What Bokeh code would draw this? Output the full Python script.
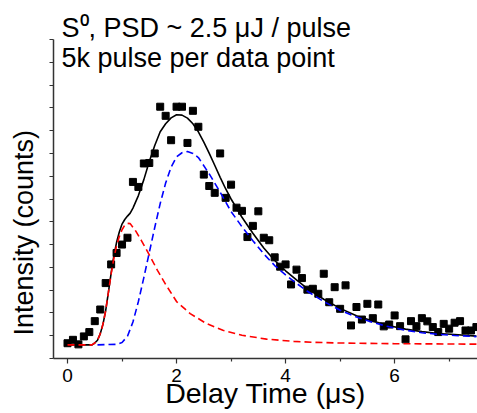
from bokeh.plotting import figure
from bokeh.models import Range1d, Label, FixedTicker
from bokeh.embed import file_html
from bokeh.resources import INLINE

# ---- data ----
delay = [0.0, 0.1, 0.2, 0.3, 0.4, 0.5, 0.6, 0.7, 0.8, 0.9,
         1.0, 1.1, 1.2, 1.3, 1.4, 1.5, 1.6, 1.7, 1.8, 1.9,
         2.0, 2.1, 2.2, 2.3, 2.4, 2.5, 2.6, 2.7, 2.8, 2.9,
         3.0, 3.1, 3.2, 3.3, 3.4, 3.5, 3.6, 3.7, 3.8, 3.9,
         4.0, 4.1, 4.2, 4.3, 4.4, 4.5, 4.6, 4.7, 4.8, 4.9,
         5.0, 5.1, 5.2, 5.3, 5.4, 5.5, 5.6, 5.7, 5.8, 5.9,
         6.0, 6.1, 6.2, 6.3, 6.4, 6.5, 6.6, 6.7, 6.8, 6.9,
         7.0, 7.1, 7.2, 7.3, 7.4, 7.5]
intensity = [0.67, 0.82, 0.62, 0.97, 1.16, 1.64, 2.15, 3.31, 4.13, 4.63,
             5.00, 5.30, 7.75, 7.53, 8.56, 8.58, 9.00, 11.05, 10.65, 9.58,
             11.05, 11.05, 9.46, 10.87, 10.17, 8.07, 7.57, 7.27, 9.00, 7.05,
             7.63, 6.62, 6.48, 5.33, 5.82, 6.46, 5.30, 5.19, 4.44, 4.03,
             4.13, 3.25, 3.90, 3.53, 3.02, 3.06, 2.84, 3.72, 2.47, 3.13,
             2.18, 3.21, 1.45, 2.26, 1.71, 2.40, 1.77, 2.37, 1.41, 1.49,
             1.89, 1.42, 0.84, 1.64, 1.42, 1.77, 1.63, 1.38, 1.16, 1.52,
             1.31, 1.57, 1.64, 1.23, 1.23, 1.38]

# total fit (black solid)
fit_x = [0.0, 0.45, 0.5, 0.55, 0.6, 0.65, 0.7, 0.75, 0.8, 0.85,
         0.9, 0.95, 1.0, 1.05, 1.1, 1.15, 1.2, 1.3, 1.4, 1.5,
         1.6, 1.7, 1.8, 1.9, 2.0, 2.1, 2.2, 2.3, 2.4, 2.5,
         2.6, 2.7, 2.8, 2.9, 3.0, 3.2, 3.4, 3.6, 3.8, 4.0,
         4.2, 4.4, 4.7, 5.0, 5.3, 5.6, 5.9, 6.2, 6.5, 6.8,
         7.1, 7.5]
fit_y = [0.6, 0.6, 0.68, 0.8, 1.08, 1.5, 2.1, 2.9, 3.75, 4.5,
         5.1, 5.55, 5.9, 6.1, 6.25, 6.38, 6.6, 7.15, 7.85, 8.65,
         9.35, 9.95, 10.3, 10.56, 10.7, 10.68, 10.55, 10.3, 9.95, 9.5,
         9.0, 8.48, 7.95, 7.45, 7.0, 6.2, 5.5, 4.85, 4.3, 3.85,
         3.45, 3.07, 2.6, 2.2, 1.88, 1.64, 1.44, 1.29, 1.18, 1.1,
         1.05, 0.98]

# fast component (red dashed)
fast_x = [0.0, 0.45, 0.5, 0.55, 0.6, 0.65, 0.7, 0.75, 0.8, 0.85,
          0.9, 0.95, 1.0, 1.05, 1.1, 1.15, 1.25, 1.35, 1.5, 1.65,
          1.8, 2.0, 2.25, 2.55, 2.85, 3.2, 3.65, 4.15, 4.5, 5.0,
          6.0, 7.5]
fast_y = [0.6, 0.6, 0.68, 0.8, 1.08, 1.5, 2.1, 2.9, 3.7, 4.4,
          4.95, 5.35, 5.65, 5.85, 5.93, 5.92, 5.6, 5.2, 4.55, 3.87,
          3.25, 2.5, 1.97, 1.53, 1.24, 1.02, 0.85, 0.75, 0.71, 0.68,
          0.65, 0.63]

# slow component (blue dashed)
slow_x = [0.55, 0.9, 1.0, 1.1, 1.2, 1.3, 1.4, 1.5, 1.6, 1.7,
          1.8, 1.9, 2.0, 2.1, 2.2, 2.3, 2.4, 2.6, 2.8, 3.0,
          3.2, 3.4, 3.6, 3.8, 4.0, 4.2, 4.4, 4.7, 5.0, 5.3,
          5.6, 5.9, 6.2, 6.5, 6.8, 7.1, 7.5]
slow_y = [0.6, 0.62, 0.7, 0.98, 1.6, 2.5, 3.55, 4.65, 5.75, 6.8,
          7.7, 8.4, 8.85, 9.03, 9.08, 9.0, 8.82, 8.1, 7.3, 6.45,
          5.78, 5.17, 4.59, 4.08, 3.67, 3.3, 2.95, 2.5, 2.12, 1.82,
          1.58, 1.39, 1.24, 1.13, 1.06, 1.01, 0.96]

x_major = [0, 2, 4, 6]
x_minor = [1, 3, 5, 7]
y_ticks = [0, 1, 2, 3, 4, 5, 6, 7, 8, 9, 10, 11, 12, 13, 14]

title_line1 = "S\u2070, PSD ~ 2.5 \u03bcJ / pulse"
title_line2 = "5k pulse per data point"
x_title = "Delay Time (\u03bcs)"
y_title = "Intensity (counts)" + "\u00a0" * 9

FONT = "Liberation Sans"
AXC = "#333333"

p = figure(width=477, height=413, output_backend="svg", toolbar_location=None,
           x_range=Range1d(-0.257, 7.52), y_range=Range1d(0, 14.0),
           min_border_left=53, min_border_right=0, min_border_top=39,
           min_border_bottom=55)
p.outline_line_color = None
p.grid.visible = False

p.title.text = title_line1
p.title.text_font = FONT
p.title.text_font_size = "27px"
p.title.text_font_style = "normal"
p.title.text_color = "black"
p.title.align = "left"
p.title.offset = 8
p.title.standoff = -6

for ax in (p.xaxis[0], p.yaxis[0]):
    ax.axis_line_color = AXC
    ax.axis_line_width = 1.5
    ax.major_tick_line_color = AXC
    ax.minor_tick_line_color = AXC
    ax.major_tick_line_width = 1.2
    ax.minor_tick_line_width = 1.2
    ax.major_tick_in = 0
    ax.minor_tick_in = 0
    ax.axis_label_text_font = FONT
    ax.axis_label_text_font_style = "normal"
    ax.axis_label_text_color = "black"

p.xaxis.ticker = FixedTicker(ticks=x_major, minor_ticks=x_minor)
p.xaxis.major_tick_out = 5
p.xaxis.minor_tick_out = 3
p.xaxis.major_label_text_font = FONT
p.xaxis.major_label_text_font_size = "19px"
p.xaxis.major_label_text_color = "black"
p.xaxis.major_label_standoff = 5
p.xaxis.axis_label = x_title
p.xaxis.axis_label_text_font_size = "28.5px"
p.xaxis.axis_label_standoff = -8

p.yaxis.ticker = FixedTicker(ticks=[], minor_ticks=y_ticks)
p.yaxis.major_tick_out = 4
p.yaxis.minor_tick_out = 4
p.yaxis.major_label_standoff = 0
p.yaxis.axis_label = y_title
p.yaxis.axis_label_text_font_size = "27px"
p.yaxis.axis_label_standoff = 11

p.scatter(delay, intensity, marker="square", size=7, color="black")
p.line(fit_x, fit_y, color="black", line_width=1.6)
p.line(slow_x, slow_y, color="#0000ff", line_width=1.6, line_dash="7 4")
p.line(fast_x, fast_y, color="#ff0000", line_width=1.6, line_dash="7 4")

p.add_layout(Label(x=-0.11, y=13.17, text=title_line2,
                   text_font=FONT, text_font_size="27px",
                   text_baseline="alphabetic", text_color="black"))

open("out.html", "w").write(file_html(p, INLINE))
